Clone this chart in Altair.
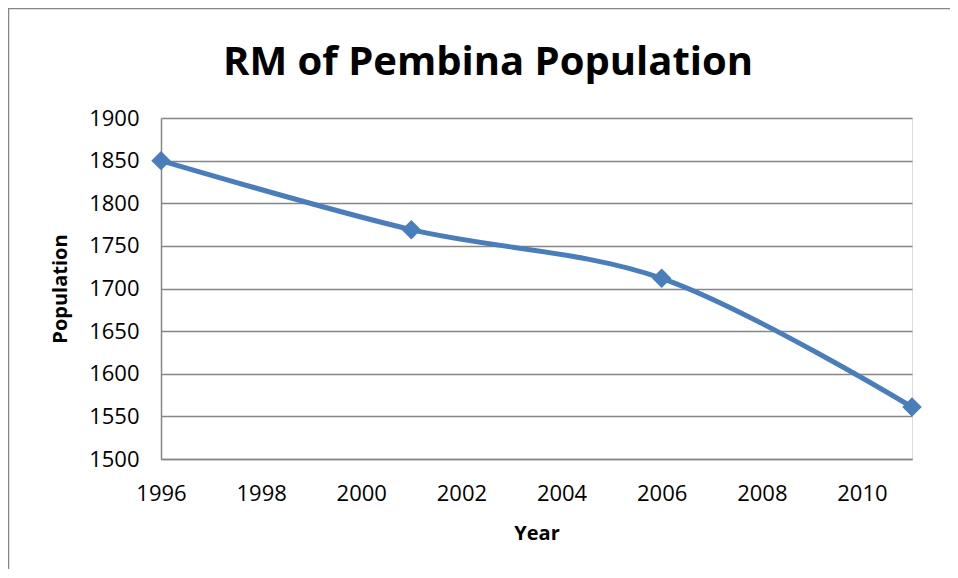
import altair as alt
import pandas as pd

years = [1996, 2001, 2006, 2011]
population = [1850, 1769, 1712, 1561]
x_ticks = [1996, 1998, 2000, 2002, 2004, 2006, 2008, 2010]
y_ticks = [1500, 1550, 1600, 1650, 1700, 1750, 1800, 1850, 1900]
chart_title = "RM of Pembina Population"

df = pd.DataFrame({"Year": years, "Population": population})

FONT = "Open Sans"
BLUE = "#4A7EBB"
GRAY = "#868686"

base = alt.Chart(df).encode(
    x=alt.X("Year:Q",
            scale=alt.Scale(domain=[1996, 2011], nice=False, zero=False),
            axis=alt.Axis(values=x_ticks, format="d", grid=False, ticks=False,
                          domainColor=GRAY, domainWidth=1.5,
                          labelFont=FONT, labelFontSize=22, labelColor="#000",
                          labelPadding=24, labelFlush=False,
                          title="Year", titleFont=FONT, titleFontSize=20,
                          titleFontWeight="bold", titleColor="#000", titlePadding=19)),
    y=alt.Y("Population:Q",
            scale=alt.Scale(domain=[1500, 1900], nice=False, zero=False),
            axis=alt.Axis(values=y_ticks, format="d", grid=True, gridColor=GRAY,
                          gridWidth=1.5, ticks=False,
                          domainColor=GRAY, domainWidth=1.5,
                          labelFont=FONT, labelFontSize=22, labelColor="#000",
                          labelPadding=22,
                          title="Population", titleFont=FONT, titleFontSize=20,
                          titleFontWeight="bold", titleColor="#000", titlePadding=18)),
)

line = base.mark_line(color=BLUE, strokeWidth=5, interpolate="catmull-rom")
points = base.mark_point(shape="diamond", filled=True, size=380, color=BLUE, opacity=1)

frame_data = alt.Data(values=[{"k": 1}])
frame = alt.Chart(frame_data).mark_rect(
    fillOpacity=0, stroke=GRAY, strokeWidth=1.5).encode(
    x=alt.value(-152.5), x2=alt.value(900), y=alt.value(-109.5), y2=alt.value(700))
title_text = alt.Chart(frame_data).mark_text(
    font=FONT, fontSize=40, fontWeight="bold", color="#000",
    align="center", baseline="alphabetic").encode(
    x=alt.value(327), y=alt.value(-43), text=alt.value(chart_title))

chart = alt.layer(frame, line, points, title_text).properties(
    width=751,
    height=341,
    autosize=alt.AutoSizeParams(type="none"),
    padding={"left": 153, "top": 110, "right": 38, "bottom": 110},
).configure_view(stroke=None).configure(background="white")

chart.save("out.html", embed_options={"renderer": "svg", "actions": False})
